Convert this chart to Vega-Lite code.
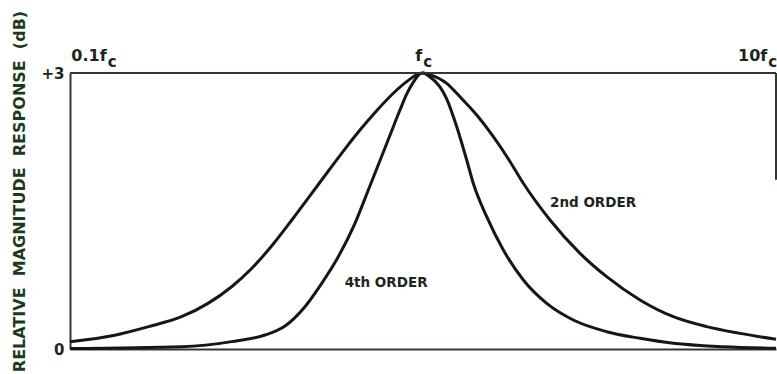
{
  "$schema": "https://vega.github.io/schema/vega-lite/v6.json",
  "autosize": "none",
  "width": 706,
  "height": 276,
  "padding": {"left": 70, "top": 73, "right": 1, "bottom": 25},
  "background": "white",
  "config": {
    "view": {"stroke": null},
    "font": "DejaVu Sans",
    "text": {"font": "DejaVu Sans", "fontWeight": "bold", "color": "#1c261c"}
  },
  "datasets": {
    "curves": [
      {"order": "2nd", "f": 0.1, "db": 0.08},
      {"order": "2nd", "f": 0.134, "db": 0.15},
      {"order": "2nd", "f": 0.167, "db": 0.243},
      {"order": "2nd", "f": 0.207, "db": 0.351},
      {"order": "2nd", "f": 0.246, "db": 0.496},
      {"order": "2nd", "f": 0.287, "db": 0.677},
      {"order": "2nd", "f": 0.327, "db": 0.875},
      {"order": "2nd", "f": 0.373, "db": 1.122},
      {"order": "2nd", "f": 0.425, "db": 1.402},
      {"order": "2nd", "f": 0.484, "db": 1.692},
      {"order": "2nd", "f": 0.551, "db": 1.982},
      {"order": "2nd", "f": 0.6, "db": 2.17},
      {"order": "2nd", "f": 0.663, "db": 2.38},
      {"order": "2nd", "f": 0.739, "db": 2.59},
      {"order": "2nd", "f": 0.824, "db": 2.78},
      {"order": "2nd", "f": 0.899, "db": 2.906},
      {"order": "2nd", "f": 0.98, "db": 2.996},
      {"order": "2nd", "f": 1.0, "db": 3.0},
      {"order": "2nd", "f": 1.05, "db": 2.98},
      {"order": "2nd", "f": 1.167, "db": 2.888},
      {"order": "2nd", "f": 1.273, "db": 2.742},
      {"order": "2nd", "f": 1.42, "db": 2.543},
      {"order": "2nd", "f": 1.582, "db": 2.308},
      {"order": "2nd", "f": 1.765, "db": 2.036},
      {"order": "2nd", "f": 1.924, "db": 1.801},
      {"order": "2nd", "f": 2.29, "db": 1.402},
      {"order": "2nd", "f": 2.785, "db": 1.04},
      {"order": "2nd", "f": 3.314, "db": 0.786},
      {"order": "2nd", "f": 4.118, "db": 0.533},
      {"order": "2nd", "f": 5.118, "db": 0.351},
      {"order": "2nd", "f": 6.365, "db": 0.243},
      {"order": "2nd", "f": 7.91, "db": 0.17},
      {"order": "2nd", "f": 10, "db": 0.105},
      {"order": "4th", "f": 0.1, "db": 0.005},
      {"order": "4th", "f": 0.207, "db": 0.025},
      {"order": "4th", "f": 0.287, "db": 0.08},
      {"order": "4th", "f": 0.357, "db": 0.152},
      {"order": "4th", "f": 0.4065, "db": 0.25},
      {"order": "4th", "f": 0.463, "db": 0.46},
      {"order": "4th", "f": 0.5165, "db": 0.714},
      {"order": "4th", "f": 0.5754, "db": 1.003},
      {"order": "4th", "f": 0.6416, "db": 1.366},
      {"order": "4th", "f": 0.7, "db": 1.728},
      {"order": "4th", "f": 0.824, "db": 2.416},
      {"order": "4th", "f": 0.861, "db": 2.6},
      {"order": "4th", "f": 0.899, "db": 2.77},
      {"order": "4th", "f": 0.939, "db": 2.9},
      {"order": "4th", "f": 0.985, "db": 2.995},
      {"order": "4th", "f": 1.0, "db": 3.0},
      {"order": "4th", "f": 1.04, "db": 2.965},
      {"order": "4th", "f": 1.117, "db": 2.85},
      {"order": "4th", "f": 1.167, "db": 2.72},
      {"order": "4th", "f": 1.246, "db": 2.416},
      {"order": "4th", "f": 1.33, "db": 2.054},
      {"order": "4th", "f": 1.388, "db": 1.801},
      {"order": "4th", "f": 1.515, "db": 1.438},
      {"order": "4th", "f": 1.689, "db": 1.076},
      {"order": "4th", "f": 1.924, "db": 0.75},
      {"order": "4th", "f": 2.241, "db": 0.496},
      {"order": "4th", "f": 2.666, "db": 0.315},
      {"order": "4th", "f": 3.314, "db": 0.188},
      {"order": "4th", "f": 4.118, "db": 0.116},
      {"order": "4th", "f": 5.118, "db": 0.062},
      {"order": "4th", "f": 7.09, "db": 0.025},
      {"order": "4th", "f": 10, "db": 0.008}
    ],
    "borders": [
      {"f": 0.1, "f2": 10, "db": 3, "db2": 3},
      {"f": 10, "f2": 10, "db": 3, "db2": 1.84}
    ],
    "freqLabels": [
      {"label": "0.1f", "f": 0.127},
      {"label": "f", "f": 0.995},
      {"label": "10f", "f": 9.45}
    ],
    "curveLabels": [
      {"label": "2nd ORDER", "f": 2.29, "db": 1.59},
      {"label": "4th ORDER", "f": 0.6, "db": 0.72}
    ]
  },
  "layer": [
    {
      "data": {"name": "curves"},
      "mark": {"type": "line", "interpolate": "monotone", "strokeWidth": 3, "color": "#141814", "clip": false},
      "encoding": {
        "x": {
          "field": "f", "type": "quantitative",
          "scale": {"type": "log", "domain": [0.1, 10], "nice": false},
          "axis": {"orient": "bottom", "labels": false, "ticks": false, "grid": false, "title": null, "domainColor": "#2e3a2e", "domainWidth": 2}
        },
        "y": {
          "field": "db", "type": "quantitative",
          "scale": {"domain": [0, 3], "nice": false, "zero": false},
          "axis": {
            "values": [0, 3],
            "labelExpr": "datum.value == 3 ? '+3' : '0'",
            "ticks": false, "grid": false,
            "domainColor": "#2e3a2e", "domainWidth": 2,
            "labelFont": "DejaVu Sans", "labelFontWeight": "bold", "labelFontSize": 15, "labelColor": "#1c261c", "labelPadding": 6,
            "title": "RELATIVE\u00a0\u00a0MAGNITUDE\u00a0\u00a0RESPONSE\u00a0\u00a0(dB)",
            "titleFont": "DejaVu Sans", "titleFontWeight": "bold", "titleFontSize": 16, "titleColor": "#1c3a1c",
            "titleAngle": -90, "titleAlign": "center", "titleBaseline": "middle",
            "titleX": -51, "titleY": 118
          }
        },
        "detail": {"field": "order"}
      }
    },
    {
      "data": {"name": "borders"},
      "mark": {"type": "rule", "strokeWidth": 2, "color": "#2e3a2e", "clip": false},
      "encoding": {
        "x": {"field": "f", "type": "quantitative"},
        "x2": {"field": "f2"},
        "y": {"field": "db", "type": "quantitative"},
        "y2": {"field": "db2"}
      }
    },
    {
      "data": {"name": "freqLabels"},
      "mark": {"type": "text", "align": "right", "baseline": "alphabetic", "fontSize": 16},
      "encoding": {
        "x": {"field": "f", "type": "quantitative"},
        "y": {"datum": 3.13},
        "text": {"field": "label"}
      }
    },
    {
      "data": {"name": "freqLabels"},
      "mark": {"type": "text", "align": "left", "baseline": "alphabetic", "fontSize": 15, "dx": 1},
      "encoding": {
        "x": {"field": "f", "type": "quantitative"},
        "y": {"datum": 3.07},
        "text": {"value": "c"}
      }
    },
    {
      "data": {"name": "curveLabels"},
      "mark": {"type": "text", "align": "left", "baseline": "middle", "fontSize": 13.5},
      "encoding": {
        "x": {"field": "f", "type": "quantitative"},
        "y": {"field": "db", "type": "quantitative"},
        "text": {"field": "label"}
      }
    }
  ]
}
